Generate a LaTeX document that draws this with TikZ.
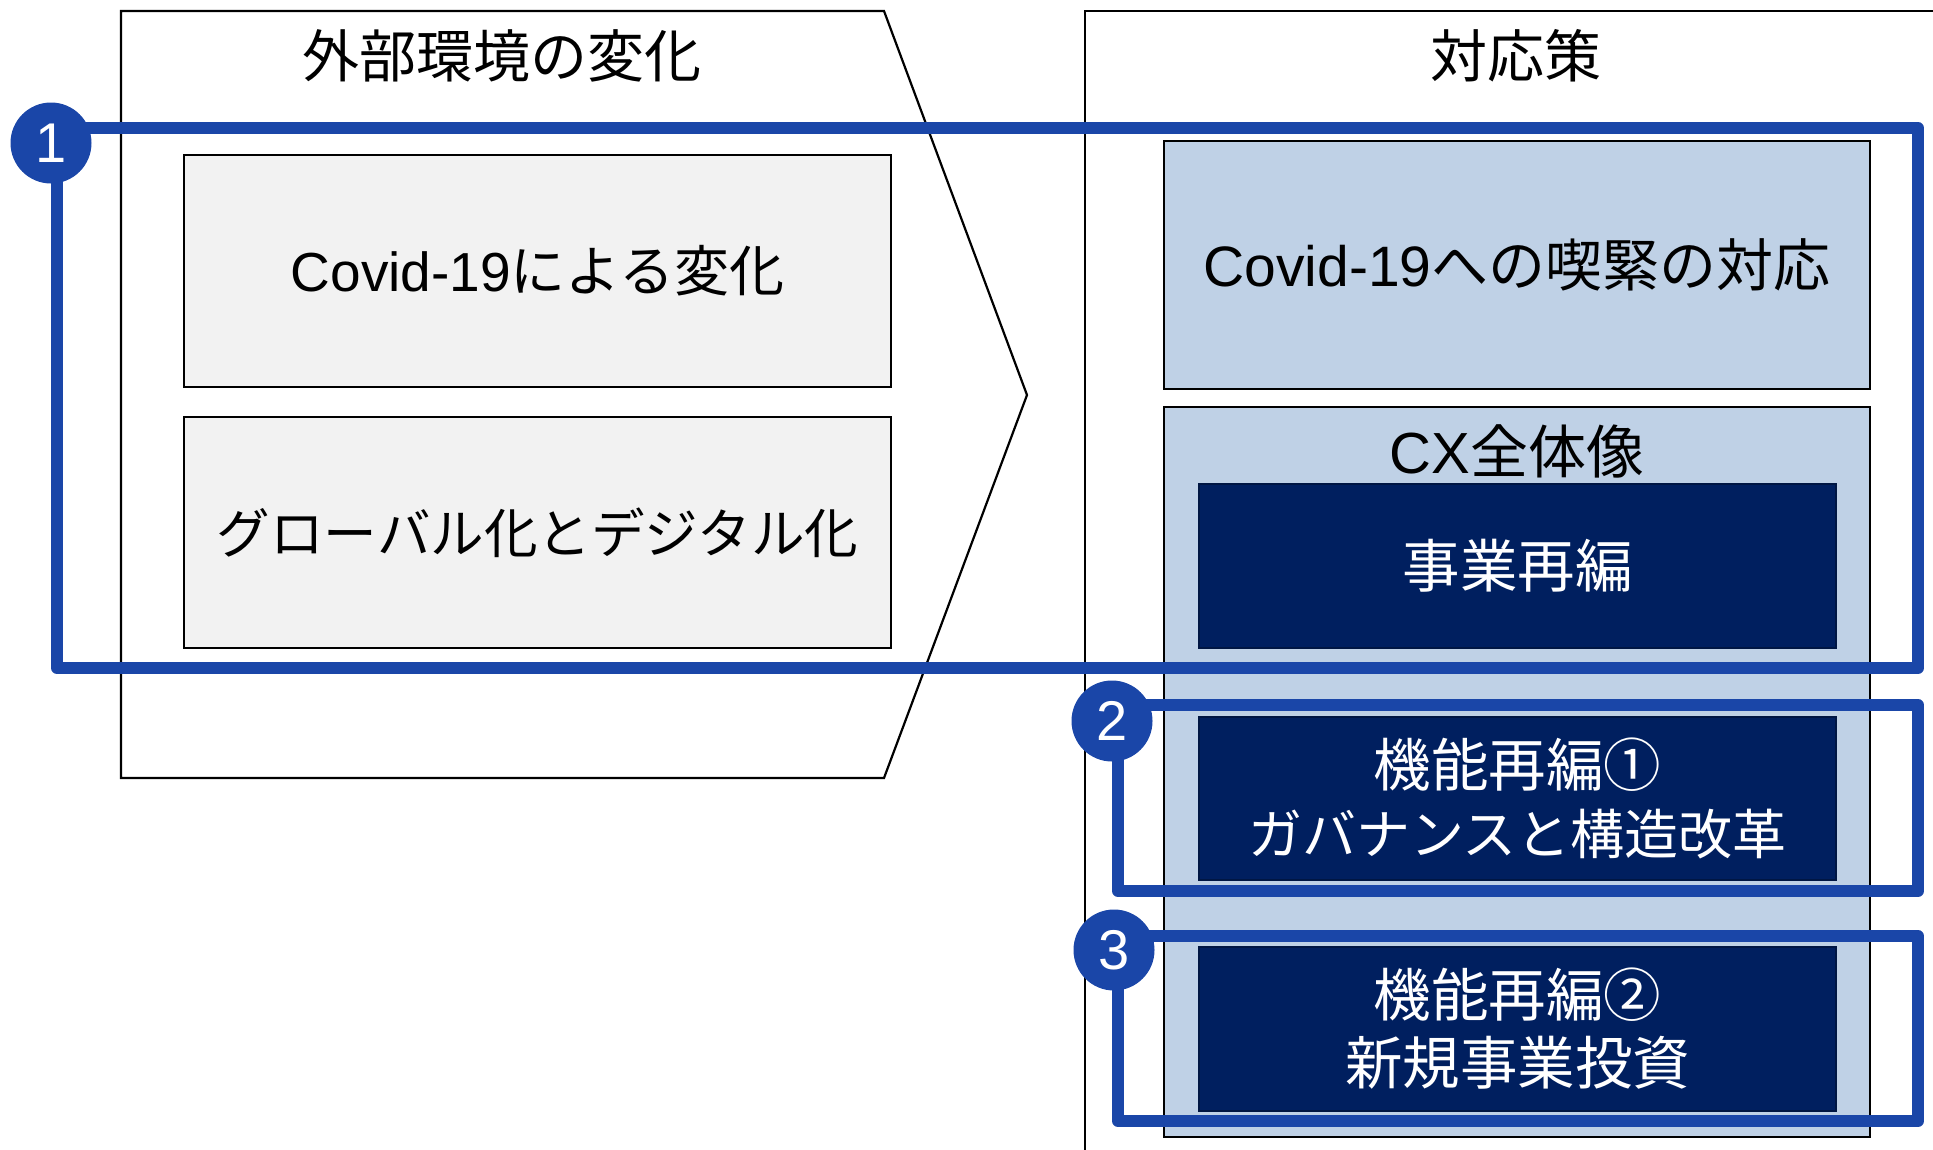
\documentclass[tikz,border=0pt]{standalone}
\usepackage{fontspec}
\setmainfont{Noto Sans CJK JP}
\newfontfamily\lat{Liberation Sans}
\definecolor{frameblue}{HTML}{1A46A8}
\definecolor{paleblue}{HTML}{BFD1E6}
\definecolor{navy}{HTML}{001F5F}
\definecolor{palegray}{HTML}{F2F2F2}
\newcommand{\bigline}{\fontsize{57.5}{68}\selectfont}
\newcommand{\kanaline}{\fontsize{54}{68}\selectfont}
\tikzset{
  thinline/.style={line width=2.2pt, draw=black},
  graybox/.style={thinline, fill=palegray, inner sep=0pt, minimum width=707pt},
  bluebox/.style={thinline, fill=paleblue, inner sep=0pt, minimum width=706pt},
  navybox/.style={draw=navy!70!black, line width=1.5pt, fill=navy, text=white, inner sep=0pt, minimum width=637pt, minimum height=163pt, align=center, font=\bigline},
  titletext/.style={inner sep=0pt, font=\fontsize{57}{64}\selectfont},
  hlframe/.style={draw=frameblue, line width=12pt, line join=round},
  numdot/.style={circle, fill=frameblue, text=white, inner sep=0pt, minimum size=81pt, font=\lat\fontsize{56}{60}\selectfont}
}
\begin{document}
\begin{tikzpicture}[x=1pt, y=-1pt]
\useasboundingbox (0,0) rectangle (1933,1149);
\clip (0,0) rectangle (1933,1149);
\fill[white] (0,0) rectangle (1933,1149);
% left chevron panel
\draw[thinline] (121,11) -- (884,11) -- (1027,395) -- (884,778) -- (121,778) -- cycle;
\node[titletext] (ltitle) at (502,56) {外部環境の変化};
\node[graybox, minimum height=232pt, font=\fontsize{55}{64}\selectfont] (g1) at (537.5,271) {{\lat Covid-19}による変化};
\node[graybox, minimum height=231pt, font=\fontsize{53.6}{64}\selectfont] (g2) at (537.5,532.5) {グローバル化とデジタル化};
% right panel
\draw[thinline] (1085,1160) -- (1085,11) -- (1945,11);
\node[titletext] (rtitle) at (1516,56) {対応策};
\node[bluebox, minimum height=248pt, font=\fontsize{57}{64}\selectfont] (b1) at (1517,265) {{\lat Covid-19}への喫緊の対応};
\node[bluebox, minimum height=730pt] (b2) at (1517,772) {};
\node[titletext, font=\fontsize{58}{64}\selectfont] (cx) at (1517,451) {{\lat CX}全体像};
\node[navybox, minimum height=164pt] (n1) at (1517.5,566) {事業再編};
\node[navybox] (n2) at (1517.5,798.5) {機能再編①\\{\kanaline ガバナンスと構造改革}};
\node[navybox, minimum height=164pt] (n3) at (1517.5,1029) {機能再編②\\新規事業投資};
% highlight frames
\draw[hlframe] (57,128) rectangle (1918,668);
\draw[hlframe] (1118,705) rectangle (1918,891);
\draw[hlframe] (1118,936) rectangle (1918,1121);
\node[numdot] (c1) at (51,143) {1};
\node[numdot] (c2) at (1112,721) {2};
\node[numdot] (c3) at (1114,950) {3};
\end{tikzpicture}
\end{document}
